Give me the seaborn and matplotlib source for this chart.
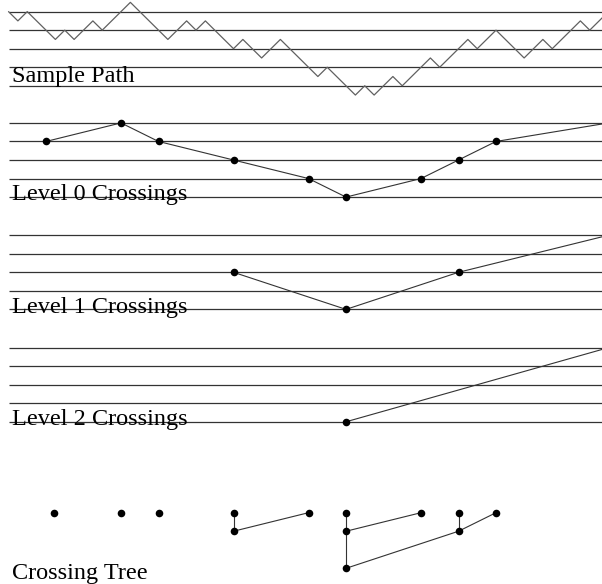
import matplotlib
matplotlib.use("Agg")
import matplotlib.pyplot as plt
import seaborn as sns
import pandas as pd

# random walk, turning points only (time step, height)
path_t = [0, 1, 2, 5, 6, 7, 9, 10, 13, 17, 19, 20, 21, 24, 25, 27, 29, 33, 34,
          37, 38, 39, 41, 42, 45, 46, 49, 50, 52, 55, 57, 58, 61, 62, 64]
path_y = [4, 3, 4, 1, 2, 1, 3, 2, 5, 1, 3, 2, 3, 0, 1, -1, 1, -3, -2,
          -5, -4, -5, -3, -4, -1, -2, 1, 0, 2, -1, 1, 0, 3, 2, 4]

levels = [4, 2, 0, -2, -4]

# crossings of the grid at each scale
lvl0_t = [4, 12, 16, 24, 32, 36, 44, 48, 52, 64]
lvl0_y = [2, 4, 2, 0, -2, -4, -2, 0, 2, 4]
lvl1_t = [24, 36, 48, 64]
lvl1_y = [0, -4, 0, 4]
lvl2_t = [36, 64]
lvl2_y = [-4, 4]

# crossing tree: leaves (row 0), level 1 nodes (row 1), root (row 2)
tree_leaf_t = [4.9, 12, 16, 24, 32, 36, 44, 48, 52]
tree_mid_t = [24, 36, 48]
tree_root_t = [36]
tree_row_y = [0, -2, -6]
# edges as (t_a, row_a, t_b, row_b)
tree_edges = [
    (24, 1, 24, 0), (24, 1, 32, 0),
    (36, 1, 36, 0), (36, 1, 44, 0),
    (48, 1, 48, 0), (48, 1, 52, 0),
    (36, 2, 36, 1), (36, 2, 48, 1),
]

labels = ["Sample Path", "Level 0 Crossings", "Level 1 Crossings",
          "Level 2 Crossings", "Crossing Tree"]

W, H = 602, 584
PX_UNIT = 9.27          # pixels per unit height
X0, PX_STEP = 8.5, 9.375
panel_zero = [48.7, 160.0, 272.3, 384.7, 512.7]   # pixel row of height 0
label_y = [-3.55, -4.35, -4.35, -4.35, -7.1]

sns.set_style("white")
plt.rcParams["font.family"] = ["Liberation Serif", "DejaVu Serif"]

fig = plt.figure(figsize=(W / 100, H / 100), dpi=100)
LINE = "#333333"
xlim = (-X0 / PX_STEP, (W - X0) / PX_STEP)


def panel_axes(zero_px):
    ax = fig.add_axes([0, 0, 1, 1])
    ax.patch.set_alpha(0)
    ax.set_axis_off()
    ax.set_xlim(*xlim)
    ax.set_ylim((zero_px - H) / PX_UNIT, zero_px / PX_UNIT)
    return ax


def crossing_panel(ax, t, y):
    ax.hlines(levels, 0, 70, color=LINE, lw=0.9)
    df = pd.DataFrame({"t": t, "y": y})
    sns.lineplot(data=df, x="t", y="y", ax=ax, sort=False, estimator=None,
                 color=LINE, lw=0.8)
    sns.scatterplot(data=df, x="t", y="y", ax=ax, color="black", s=30,
                    edgecolor="black", linewidth=0, zorder=3)


axes = [panel_axes(z) for z in panel_zero]

# sample path
ax = axes[0]
ax.hlines(levels, 0, 70, color=LINE, lw=0.9)
sns.lineplot(x=path_t, y=path_y, ax=ax, sort=False, estimator=None,
             color="#606060", lw=0.9)

crossing_panel(axes[1], lvl0_t, lvl0_y)
crossing_panel(axes[2], lvl1_t, lvl1_y)
crossing_panel(axes[3], lvl2_t, lvl2_y)

# crossing tree
ax = axes[4]
for ta, ra, tb, rb in tree_edges:
    sns.lineplot(x=[ta, tb], y=[tree_row_y[ra], tree_row_y[rb]], ax=ax,
                 sort=False, estimator=None, color=LINE, lw=0.8)
nodes = pd.DataFrame({
    "t": tree_leaf_t + tree_mid_t + tree_root_t,
    "y": [tree_row_y[0]] * len(tree_leaf_t) + [tree_row_y[1]] * len(tree_mid_t)
         + [tree_row_y[2]] * len(tree_root_t),
})
sns.scatterplot(data=nodes, x="t", y="y", ax=ax, color="black", s=30,
                edgecolor="black", linewidth=0, zorder=3)

for ax, text, ly in zip(axes, labels, label_y):
    ax.text(0.35, ly, text, fontsize=17.5, color="black", va="baseline",
            ha="left")
    ax.set_axis_off()

fig.savefig("out.png", dpi=100)
